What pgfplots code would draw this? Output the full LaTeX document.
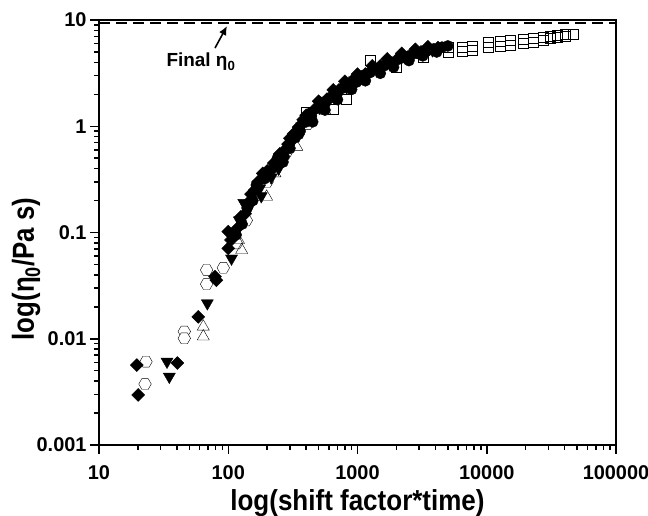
\documentclass[border=0pt]{standalone}
\usepackage{fontspec}
\setmainfont{Liberation Sans}
\newfontfamily\labelfont[FakeStretch=0.85]{Liberation Sans}
\newfontfamily\xlabelfont[FakeStretch=0.90]{Liberation Sans}
\usepackage{pgfplots}
\pgfplotsset{compat=1.18}
\usetikzlibrary{arrows.meta}
\pgfdeclareplotmark{hexagon}{%
 \pgfpathmoveto{\pgfqpoint{\pgfplotmarksize}{0pt}}%
 \pgfpathlineto{\pgfqpoint{0.5\pgfplotmarksize}{0.866\pgfplotmarksize}}%
 \pgfpathlineto{\pgfqpoint{-0.5\pgfplotmarksize}{0.866\pgfplotmarksize}}%
 \pgfpathlineto{\pgfqpoint{-\pgfplotmarksize}{0pt}}%
 \pgfpathlineto{\pgfqpoint{-0.5\pgfplotmarksize}{-0.866\pgfplotmarksize}}%
 \pgfpathlineto{\pgfqpoint{0.5\pgfplotmarksize}{-0.866\pgfplotmarksize}}%
 \pgfpathclose
 \pgfusepathqfillstroke}
\begin{document}
\begin{tikzpicture}
\path[use as bounding box] (-99bp,-71bp) rectangle (549bp,445bp);
\begin{axis}[
 xmode=log, ymode=log,
 scale only axis, width=517bp, height=425bp,
 xmin=10, xmax=100000, ymin=0.001, ymax=10,
 axis line style={line width=1.8bp},
 tick align=outside, xtick pos=bottom, ytick pos=left,
 major tick length=9bp, minor tick length=5bp,
 every tick/.style={black, line width=1.5bp},
 xtick={10,100,1000,10000,100000}, xticklabels={10,100,1000,10000,100000},
 ytick={0.001,0.01,0.1,1,10}, yticklabels={0.001,0.01,0.1,1,10},
 minor xtick={20,30,40,50,60,70,80,90,200,300,400,500,600,700,800,900,2000,3000,4000,5000,6000,7000,8000,9000,20000,30000,40000,50000,60000,70000,80000,90000},
 minor ytick={0.002,0.003,0.004,0.005,0.006,0.007,0.008,0.009,0.02,0.03,0.04,0.05,0.06,0.07,0.08,0.09,0.2,0.3,0.4,0.5,0.6,0.7,0.8,0.9,2,3,4,5,6,7,8,9},
 ticklabel style={font=\fontsize{20}{22}\selectfont\bfseries},
 xticklabel style={yshift=-8bp},
 xlabel={log(shift factor*time)}, ylabel={log(η\textsubscript{0}/Pa s)},
 every axis x label/.style={at={(axis description cs:0.5,-0.137)}, anchor=center, font=\xlabelfont\fontsize{29}{30}\selectfont\bfseries},
 every axis y label/.style={at={(axis description cs:-0.141,0.414)}, anchor=center, rotate=90, font=\labelfont\fontsize{30.5}{32}\selectfont\bfseries},
 mark options={solid, line width=1.5bp},
]
% dashed final eta0 line
\addplot[black, line width=2bp, dash pattern=on 11bp off 6bp] coordinates {(10,9.3) (100000,9.3)};
% open hexagons
\addplot[only marks, mark=hexagon, mark size=6.3, mark options={fill=white, draw=black}] coordinates {
(23.1,0.00608) (22.7,0.00375) (45.7,0.0117) (45.7,0.0101) (68,0.0444) (68,0.0327) (91.6,0.0465) (116,0.079)
(138,0.13) (200,0.3) (280,0.56) (410,1.05)};
% open triangles up
\addplot[only marks, mark=triangle, mark size=7, mark options={fill=white, draw=black}] coordinates {
(64.1,0.013) (64.1,0.0105) (127,0.0685) (120,0.085) (198,0.217) (339,0.64) (230,0.36) (560,1.4)};
% open squares
\addplot[only marks, mark=square, mark size=5, mark options={fill=white, draw=black}] coordinates {
(404,1.35) (650,1.45) (824,1.8) (1250,4.2) (2000,3.6) (3200,4.5)
(5010,5.0) (5010,5.5) (6430,5.1) (6430,5.6) (7690,5.2) (7690,5.7)
(10230,5.6) (10230,6.2) (12660,5.7) (12660,6.3) (15130,5.8) (15130,6.4)
(19060,6.0) (19060,6.6) (22780,6.2) (22780,6.7) (27230,6.5) (27230,6.9)
(30840,6.7) (30840,7.0) (34930,6.9) (34930,7.2) (40300,7.0) (40300,7.3) (46450,7.4)};
% filled diamonds
\addplot[only marks, mark=square*, mark size=4.6, mark options={rotate=45, fill=black, draw=black}] coordinates {
(19.6,0.00566) (20.1,0.00296) (40.4,0.0059) (58.6,0.0161) (79,0.0384) (81,0.0355) (100,0.102) (100,0.071)
(105,0.085) (118,0.11) (125,0.14) (135,0.15) (142,0.19) (150,0.23) (160,0.25) (170,0.3) (185,0.36) (200,0.38)
(225,0.45) (250,0.55) (275,0.6) (290,0.68) (320,0.85) (350,0.98) (380,1.15) (420,1.3) (460,1.42) (520,1.65)
(580,1.8) (650,2.0) (720,2.2) (800,2.4) (900,2.65) (1000,2.8) (1150,3.1) (1300,3.35) (1500,3.7) (1700,3.9)
(2000,4.2) (2300,4.5) (2700,4.8) (3100,5.0) (3600,5.3) (4200,5.5)
(300,0.77) (400,1.27) (500,1.72) (650,2.2) (800,2.65) (1000,3.1) (1300,3.7) (1700,4.3) (2200,4.85) (2800,5.3) (3500,5.6)};
% filled circles
\addplot[only marks, mark=*, mark size=5.6, mark options={fill=black, draw=black}] coordinates {
(115,0.095) (128,0.12) (140,0.17) (155,0.2) (165,0.28) (190,0.32) (210,0.38) (240,0.5) (265,0.46) (270,0.52)
(300,0.62) (330,0.78) (360,0.9) (400,1.1) (440,1.25) (490,1.48) (550,1.62) (620,1.85) (700,2.05) (780,2.3)
(870,2.5) (980,2.6) (1100,3.0) (1250,3.2) (1400,3.5) (1600,3.7) (1850,4.0) (2100,4.3) (2500,4.6) (2900,4.85)
(3400,5.1) (3900,5.35) (4500,5.55) (5000,5.7)
(350,0.84) (450,1.1) (560,1.42) (700,1.78) (900,2.22) (1150,2.68) (1500,3.15) (1900,3.6) (2500,4.15) (3200,4.6) (4100,5.0)};
% filled triangles down
\addplot[only marks, mark=triangle*, mark size=7, mark options={rotate=180, fill=black, draw=black}] coordinates {
(33.6,0.0061) (35,0.0044) (68.9,0.0216) (106,0.057)
(110,0.1) (122,0.13) (148,0.18) (175,0.26) (195,0.34) (230,0.42) (260,0.5) (310,0.7) (370,1.0) (430,1.2)
(510,1.5) (600,1.75) (690,2.0) (820,2.35) (950,2.7) (1200,3.05) (1500,3.5) (1900,3.95) (2400,4.4) (3000,4.9) (3800,5.2)
(132,0.19) (180,0.22) (215,0.33) (245,0.4)};
% annotation
\draw[-{Latex[length=9bp,width=8bp]}, line width=1.6bp] (axis cs:79,5.45) -- (axis cs:97.8,8.78);
\node[font=\fontsize{19}{20}\selectfont\bfseries, anchor=center] at (axis cs:61.5,4.03) {Final η\textsubscript{0}};
\end{axis}
\end{tikzpicture}
\end{document}
